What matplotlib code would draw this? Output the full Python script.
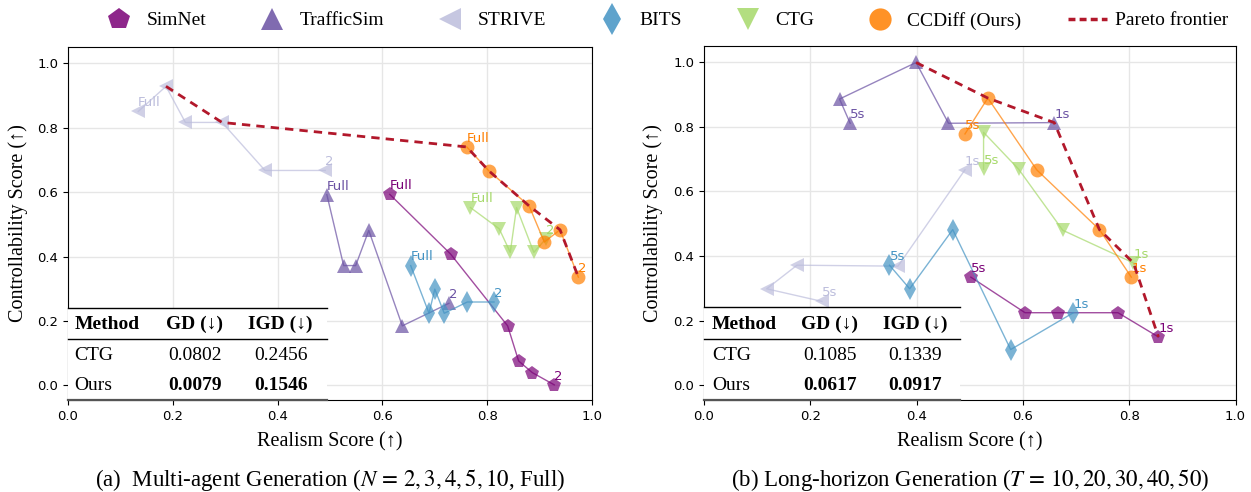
import matplotlib
matplotlib.use('Agg')
import matplotlib.pyplot as plt
from matplotlib.lines import Line2D
from matplotlib.patches import Rectangle

plt.rcParams['mathtext.fontset'] = 'stix'
SERIF = ['Liberation Serif', 'DejaVu Serif']

methods = ['SimNet', 'TrafficSim', 'STRIVE', 'BITS', 'CTG', 'CCDiff (Ours)']
colors = ['#7a0177', '#6a51a3', '#bcbddc', '#4393c3', '#a6d96a', '#ff7f00']
markers = ['p', '^', '<', 'd', 'v', 'o']

# (a) multi-agent, order: N = Full, 10, 5, 4, 3, 2
labels_a = ['Full', '10', '5', '4', '3', '2']
simnet_a_x = [0.614, 0.730, 0.839, 0.860, 0.886, 0.928]
simnet_a_y = [0.593, 0.408, 0.185, 0.076, 0.040, 0.002]
trafficsim_a_x = [0.494, 0.526, 0.549, 0.574, 0.638, 0.727]
trafficsim_a_y = [0.592, 0.372, 0.372, 0.481, 0.185, 0.255]
strive_a_x = [0.134, 0.187, 0.224, 0.294, 0.376, 0.491]
strive_a_y = [0.850, 0.928, 0.816, 0.816, 0.667, 0.667]
bits_a_x = [0.654, 0.689, 0.700, 0.718, 0.762, 0.813]
bits_a_y = [0.372, 0.224, 0.299, 0.224, 0.259, 0.259]
ctg_a_x = [0.768, 0.823, 0.844, 0.856, 0.889, 0.912]
ctg_a_y = [0.552, 0.486, 0.413, 0.552, 0.413, 0.455]
ccdiff_a_x = [0.761, 0.803, 0.880, 0.909, 0.939, 0.974]
ccdiff_a_y = [0.740, 0.666, 0.557, 0.445, 0.483, 0.336]

# (b) long-horizon, order: T = 50, 40, 30, 20, 10  (5s ... 1s)
labels_b = ['5s', '4s', '3s', '2s', '1s']
simnet_b_x = [0.502, 0.604, 0.666, 0.779, 0.855]
simnet_b_y = [0.335, 0.225, 0.225, 0.225, 0.150]
trafficsim_b_x = [0.275, 0.255, 0.399, 0.460, 0.659]
trafficsim_b_y = [0.811, 0.886, 0.999, 0.811, 0.813]
strive_b_x = [0.222, 0.118, 0.175, 0.365, 0.491]
strive_b_y = [0.260, 0.299, 0.372, 0.369, 0.667]
bits_b_x = [0.349, 0.387, 0.468, 0.577, 0.695]
bits_b_y = [0.372, 0.299, 0.482, 0.111, 0.225]
ctg_b_x = [0.526, 0.526, 0.592, 0.675, 0.808]
ctg_b_y = [0.669, 0.783, 0.669, 0.480, 0.379]
ccdiff_b_x = [0.491, 0.534, 0.626, 0.744, 0.804]
ccdiff_b_y = [0.778, 0.889, 0.667, 0.482, 0.335]

table_cols = ['Method', 'GD (↓)', 'IGD (↓)']
table_a_rows = [['CTG', '0.0802', '0.2456'], ['Ours', '0.0079', '0.1546']]
table_b_rows = [['CTG', '0.1085', '0.1339'], ['Ours', '0.0617', '0.0917']]

captions = ['(a)  Multi-agent Generation ($N\\,=\\,2, 3, 4, 5, 10$, Full)',
            '(b) Long-horizon Generation ($T\\,=\\,10, 20, 30, 40, 50$)']

series_a = [(simnet_a_x, simnet_a_y), (trafficsim_a_x, trafficsim_a_y),
            (strive_a_x, strive_a_y), (bits_a_x, bits_a_y),
            (ctg_a_x, ctg_a_y), (ccdiff_a_x, ccdiff_a_y)]
series_b = [(simnet_b_x, simnet_b_y), (trafficsim_b_x, trafficsim_b_y),
            (strive_b_x, strive_b_y), (bits_b_x, bits_b_y),
            (ctg_b_x, ctg_b_y), (ccdiff_b_x, ccdiff_b_y)]


def pareto(series):
    pts = []
    for xs, ys in series:
        pts += list(zip(xs, ys))
    pts.sort(key=lambda p: -p[0])
    front = []
    best = -1e9
    for x, y in pts:
        if y > best:
            front.append((x, y))
            best = y
    front.sort()
    return [p[0] for p in front], [p[1] for p in front]


W, H = 1251, 492
fig = plt.figure(figsize=(W / 100, H / 100), dpi=100)

ax_a = fig.add_axes([68 / W, 1 - 400 / H, 524 / W, (400 - 47) / H])
ax_b = fig.add_axes([704 / W, 1 - 400 / H, 531.5 / W, (400 - 46) / H])


def draw(ax, series, labels, rows, tab_right, cols_x, caption, cap_x):
    for (xs, ys), c, m in zip(series, colors, markers):
        ms = 11 if m == 'd' else 10
        ax.plot(xs, ys, color=c, marker=m, markersize=ms, lw=1.0, alpha=0.7,
                markeredgewidth=0, zorder=3)
        for i in (0, len(xs) - 1):
            ax.annotate(labels[i], (xs[i], ys[i]), xytext=(0, 1.5),
                        textcoords='offset points', ha='left', va='bottom',
                        color=c, fontsize=9.5, zorder=4)
    fx, fy = pareto(series)
    ax.plot(fx, fy, color='#b2182b', lw=2.0, ls=(0, (3, 2.2)), zorder=4)

    ax.set_xlim(0, 1.0)
    ax.set_ylim(-0.045, 1.05)
    ax.set_xticks([0, 0.2, 0.4, 0.6, 0.8, 1.0])
    ax.set_yticks([0, 0.2, 0.4, 0.6, 0.8, 1.0])
    ax.tick_params(labelsize=9.5, length=3.5)
    ax.grid(True, color='#e6e6e6', lw=1.0, zorder=0)
    ax.set_axisbelow(True)
    ax.set_xlabel('Realism Score (↑)', fontfamily=SERIF, fontsize=14.5)
    ax.set_ylabel('Controllability Score (↑)', fontfamily=SERIF, fontsize=14.5)
    ax.xaxis.set_label_coords(0.5, -0.09)
    ax.yaxis.set_label_coords(-0.077, 0.5)

    # table inset
    tr = ax.transAxes
    ax.add_patch(Rectangle((0, 0), tab_right, 0.262, transform=tr,
                           facecolor='white', edgecolor='none', zorder=6))
    ax.plot([0, tab_right], [0.262, 0.262], transform=tr, color='black', lw=1.0, zorder=7,
            clip_on=False)
    ax.plot([0, tab_right], [0.173, 0.173], transform=tr, color='black', lw=1.0, zorder=7,
            clip_on=False)
    ax.plot([0, tab_right], [0.0, 0.0], transform=tr, color='#555555', lw=1.6, zorder=7,
            clip_on=False)
    row_y = [0.213, 0.127, 0.041]
    for j, txt in enumerate(table_cols):
        ax.text(cols_x[j], row_y[0], txt, transform=tr, fontfamily=SERIF, fontsize=14,
                fontweight='bold', ha='left' if j == 0 else 'center', va='center', zorder=8)
    for r, row in enumerate(rows):
        for j, txt in enumerate(row):
            bold = (r == 1 and j > 0)
            ax.text(cols_x[j], row_y[r + 1], txt, transform=tr, fontfamily=SERIF,
                    fontsize=14, fontweight='bold' if bold else 'normal',
                    ha='left' if j == 0 else 'center', va='center', zorder=8)

    fig.text(cap_x, 0.025, caption, fontfamily=SERIF, fontsize=16.5, ha='center',
             va='center')


draw(ax_a, series_a, labels_a, table_a_rows, 0.494, [0.012, 0.242, 0.406],
     captions[0], 330 / W)
draw(ax_b, series_b, labels_b, table_b_rows, 0.482, [0.015, 0.237, 0.397],
     captions[1], 970 / W)

handles = [Line2D([], [], color=c, marker=m, ls='none', markersize=16 if m != 'd' else 16,
                  alpha=0.85, markeredgewidth=0) for c, m in zip(colors, markers)]
handles.append(Line2D([], [], color='#b2182b', lw=2.5, ls=(0, (2, 1.2))))
fig.legend(handles, methods + ['Pareto frontier'], loc='upper center',
           bbox_to_anchor=(664 / W, 1.012), ncol=7, frameon=False,
           prop={'family': SERIF, 'size': 14}, handlelength=2.0, handletextpad=0.4,
           columnspacing=2.4)

fig.savefig('out.png', dpi=100)
